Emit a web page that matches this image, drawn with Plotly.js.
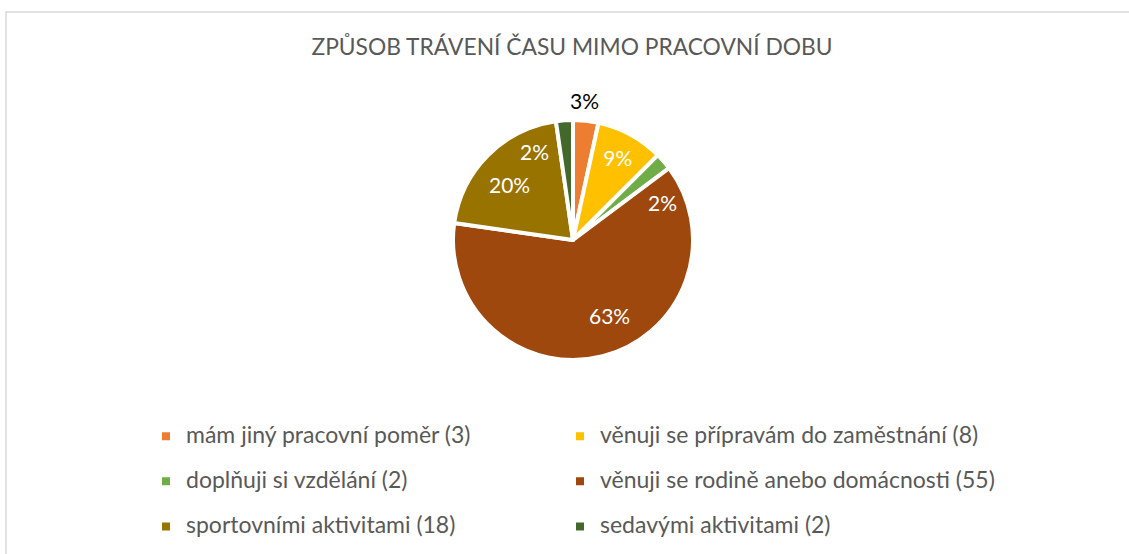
<!DOCTYPE html>
<html>
<head>
<meta charset="utf-8">
<script src="https://cdn.plot.ly/plotly-3.0.1.min.js"></script>
<style>html,body{margin:0;padding:0;background:#fff;}#chart{width:1129px;height:554px;}</style>
</head>
<body>
<div id="chart"></div>
<script>
const categories = [
  "mám jiný pracovní poměr (3)",
  "věnuji se přípravám do zaměstnání (8)",
  "doplňuji si vzdělání (2)",
  "věnuji se rodině anebo domácnosti (55)",
  "sportovními aktivitami (18)",
  "sedavými aktivitami (2)"
];
const values = [3, 8, 2, 55, 18, 2];
const colors = ["#ED7D31", "#FFC000", "#70AD47", "#9E480E", "#997300", "#43682B"];
const labelPlacement = ["none", "inside", "none", "none", "none", "none"];
const chartTitle = "ZPŮSOB TRÁVENÍ ČASU MIMO PRACOVNÍ DOBU";

const W = 1129, H = 554;
const FONT = "Lato, 'Open Sans', sans-serif";
const total = values.reduce((a, b) => a + b, 0);
const pct = v => Math.round(v / total * 100) + "%";

const trace = {
  type: "pie",
  // two-line legend labels (second line empty) give the taller legend rows of the original
  labels: categories.map(c => '<span style="font-size:23px">' + c + '</span><br> '),
  values: values,
  sort: false,
  direction: "clockwise",
  rotation: 0,
  marker: { colors: colors, line: { color: "#ffffff", width: 4 } },
  texttemplate: "%{percent:.0%}",
  textposition: labelPlacement,
  insidetextorientation: "horizontal",
  textfont: { family: FONT, size: 21, color: "#ffffff" },
  insidetextfont: { family: FONT, size: 21, color: "#ffffff" },
  hoverinfo: "percent",
  domain: { x: [453 / W, 693 / W], y: [1 - 360 / H, 1 - 120 / H] }
};

// data labels placed like the original's best-fit labels
const extraLabels = [
  { idx: 0, x: 584 / W, y: 1 - 100 / H, color: "#000000", size: 21 },
  { idx: 2, x: 662 / W, y: 1 - 202 / H, color: "#ffffff", size: 21 },
  { idx: 3, x: 609 / W, y: 1 - 315 / H, color: "#ffffff", size: 21 },
  { idx: 4, x: 509 / W, y: 1 - 184 / H, color: "#ffffff", size: 21 },
  { idx: 5, x: 534 / W, y: 1 - 151 / H, color: "#ffffff", size: 21 }
];

const layout = {
  width: W, height: H,
  margin: { l: 0, r: 0, t: 0, b: 0, autoexpand: false },
  paper_bgcolor: "#ffffff",
  font: { family: FONT, color: "#595959" },
  title: {
    text: chartTitle,
    font: { family: FONT, size: 22.8, color: "#595959" },
    x: 572 / W, xanchor: "center", xref: "paper",
    y: 1 - 47 / H, yanchor: "middle", yref: "container"
  },
  showlegend: true,
  legend: {
    orientation: "h",
    x: 146 / W, xanchor: "left",
    y: 1 - 414 / H, yanchor: "top",
    entrywidth: 369, entrywidthmode: "pixels",
    valign: "top",
    // blank title only widens the legend box so the second column is not cut off
    title: { text: "\u00A0".repeat(357), side: "top", font: { family: "DejaVu Sans Mono", size: 4, color: "#595959" } },
    font: { family: FONT, size: 16.2, color: "#595959" },
    bgcolor: "rgba(0,0,0,0)",
    traceorder: "normal"
  },
  shapes: [{
    type: "rect", xref: "paper", yref: "paper",
    x0: 6 / W, x1: 1.02, y0: -0.02, y1: 1 - 12 / H,
    line: { color: "#d9d9d9", width: 1.5 }, fillcolor: "rgba(0,0,0,0)", layer: "below"
  }],
  annotations: extraLabels.map(e => ({
    text: pct(values[e.idx]), x: e.x, y: e.y, xref: "paper", yref: "paper",
    xanchor: "center", yanchor: "middle",
    showarrow: false, font: { family: FONT, size: e.size, color: e.color }
  }))
};

Plotly.newPlot("chart", [trace], layout, { displayModeBar: false, staticPlot: true });
</script>
</body>
</html>
